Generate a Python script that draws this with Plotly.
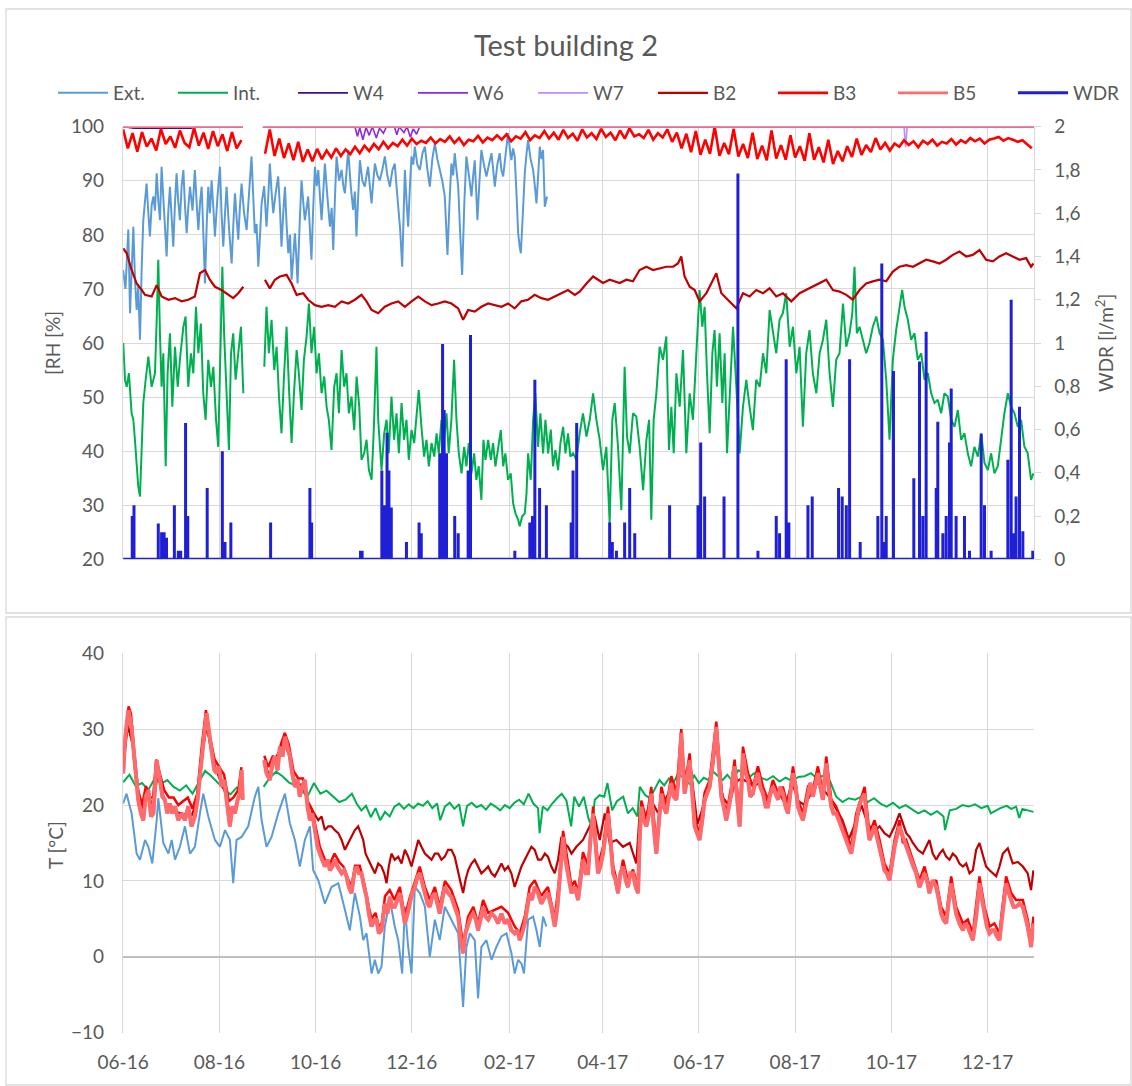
import plotly.graph_objects as go
import pandas as pd

START = pd.Timestamp("2016-06-01")
END_DAY = 577.5
GAP = 82  # day inside the Aug-2016 logger gap

# ---------------- RH panel: (day offset from 2016-06-01, RH %) ----------------
ext_rh = [(0,73.5),(1.5,70),(3.3,81),(4.4,65.5),(5.5,74),(6.5,81.5),(7.5,72),(8.6,66.1),(9.6,70.5),(10.7,60.6),
(11.8,74),(12.8,82.7),(13.8,86),(14.9,89.5),(16,84),(17,79.7),(18.1,85.5),(19.2,87.1),(20.2,84.5),(21.3,91.4),
(22.4,86),(23.4,82.7),(24.4,92.6),(26,84),(27.6,76),(28.6,84),(29.7,88.9),(30.8,83),(31.8,77.8),(32.9,86),
(33.9,91.4),(35,86),(36,82.7),(37.1,89),(38.2,92),(39.3,85),(40.3,80.3),(41.3,85),(42.4,88.9),(44,84.5),
(45.5,92),(46.6,86),(47.7,80.9),(48.8,86),(49.8,88.9),(50.9,80),(51.9,71),(53,82),(54,88.9),(55,84),
(56.1,90.1),(57.2,85),(58.2,79.7),(59.8,87),(61.4,92.6),(62.4,84),(63.5,77.8),(64.6,84),(65.6,88.9),(67.2,81),
(68.8,74.7),(69.9,82),(70.9,87.7),(72,83),(73,79.1),(74,85),(75.1,89.5),(76.7,84),(78.3,80.9),(79.9,88),
(81.4,94.5),(82.5,87),(83.5,80.3),(84.6,82),(85.7,74.1),(86.8,80),(87.8,85.8),(89.4,89),(90.9,81.5),(92,87),
(93,93.2),(94.1,88),(95.2,84),(96.8,88),(98.3,90.8),(99.4,85),(100.4,77.8),(101.5,84),(102.6,88.9),(103.6,82),
(104.7,76.6),(105.8,80),(106.8,71.7),(107.9,76),(108.9,80.3),(109.8,76),(110.6,71),(111.9,82),(113.1,90.1),(114.2,86),
(115.2,82.7),(116.3,85),(117.3,87.1),(118.4,81),(119.4,75.4),(120.5,85),(121.6,92.6),(122.7,89),(123.7,92),(124.8,87),
(125.8,82.7),(126.9,88),(127.9,93.2),(129.5,87),(131.1,81.5),(132.2,85),(133.2,77.2),(134.3,87),(135.3,94.5),(136.9,90),
(138.5,92),(139.6,89),(140.6,87.7),(141.7,92),(142.7,95.7),(144.3,89),(145.8,84.6),(146.9,88),(147.9,79.7),(149,87),
(150.1,93.8),(151.7,90),(153.2,88.9),(154.3,91),(155.3,92.6),(156.4,89),(157.5,85.8),(158.6,90),(159.6,93.2),(161.2,91),
(162.7,90.1),(164.3,92),(165.9,94.5),(167.5,91),(169.1,88.9),(170.7,92),(172.2,93.2),(173.3,89),(174.4,85.8),(175.6,81),
(176.9,74.1),(177.8,85),(178.6,92),(179.7,86),(180.7,81.5),(181.8,89),(182.8,94.5),(183.9,93),(184.9,96.3),(186.5,93),
(188.1,92),(189.7,95),(191.3,96.3),(192.9,92),(194.4,88.9),(196,94),(197.6,96.9),(199.2,94),(200.7,92),(202.3,90),
(203.9,87.1),(204.8,82),(205.6,76.3),(206.9,86),(208.1,93.2),(209.2,91),(210.2,95.1),(211.3,92),(212.4,88.9),(213.7,80),
(214.9,72.6),(216.3,86),(217.6,94.5),(219.2,91),(220.8,87.1),(221.9,91),(222.9,93.8),(223.8,88),(224.6,82.7),(225.9,90),
(227.1,95.7),(228.7,93),(230.3,90.8),(231.9,93),(233.5,95.1),(234.6,92),(235.6,88.9),(237.2,93),(238.7,95.1),(239.8,92),
(240.9,90.8),(242.5,95),(244,98.8),(245.1,96),(246.1,93.8),(247.2,96),(248.2,94.5),(249.3,88),(250.4,80.3),(251.3,78),
(252.1,76.6),(253.4,84),(254.6,91.4),(255.7,95),(256.7,97.5),(258.3,94),(259.9,92),(261,89),(262,85.8),(263.1,91),
(264.1,96.3),(265.2,94),(266.2,95.7),(267.3,85.2),(268.7,87.1)]

int_rh = [(0.1,60),(1.2,53.2),(2.3,51.9),(3.7,54.4),(5.4,47),(6.5,45.8),(7.5,42.1),(8.6,36.5),(9.6,33.5),(10.7,31.6),
(11.8,39.6),(12.8,48.9),(14.3,53.2),(16,57.5),(18.1,51.9),(20.2,54.4),(21.3,64.3),(22.3,75.4),(23.4,61.2),(24.4,51.9),
(25.5,58.1),(27,37.2),(28.2,54.4),(29.7,61.8),(31.2,48.2),(32.9,59.3),(34.6,51.9),(36,56.9),(38.2,63),(39.6,64.9),
(41.3,51.9),(43,58.1),(44.5,54.4),(46.2,66.7),(47.7,58.1),(49.3,63.6),(50.8,50.7),(52.3,45.8),(54,56.9),(55.7,51.9),
(57.2,55.6),(58.9,45.8),(60.3,40.8),(61.6,58.1),(62.9,74.1),(64.1,61.2),(65.6,51.9),(67.1,40.2),(68.4,58.1),(69.8,61.8),
(71.3,53.2),(73,58.1),(74.7,63),(76.2,50.7),(GAP,None),
(89.5,55.6),(90.9,66.7),(92.4,58.1),(94.1,64.3),(95.8,55),(97.3,59.3),(98.8,50.1),(100.4,43.3),(101.9,53.2),(103.6,63),
(105.1,51.9),(106.8,41.5),(108.3,50.7),(110,58.7),(111.4,54.4),(113.1,47.6),(114.6,56.9),(116.3,61.2),(117.8,67.3),(119.4,58.1),
(121.1,63),(122.6,54.4),(124.1,58.1),(125.8,50.7),(127.5,53.8),(129,48.2),(130.4,45.8),(132.1,40.2),(133.8,51.9),(135.3,54.4),
(136.8,47),(138.5,58.7),(140.1,51.9),(141.6,54.4),(143.1,47),(144.8,50.1),(146.5,43.9),(148,53.8),(149.7,48.2),(151.1,38.4),
(152.8,39.6),(154.3,42.1),(155.8,36.5),(157.5,34.7),(158.9,43.9),(160.6,59.3),(161.7,45.8),(163.8,36.5),(165.5,43.3),(167,45.8),
(168.4,39.6),(170.1,50.1),(171.8,42.1),(173.3,47),(174.8,39.6),(176.5,48.9),(178.1,42.1),(179.6,45.8),(181.1,38.4),(182.8,43.9),
(184.5,41.5),(185.9,47),(187.4,51.3),(189.1,44.5),(190.8,39),(192.3,42.1),(193.8,37.2),(195.5,41.5),(197.2,39),(198.7,43.3),
(200.1,39.6),(201.8,45.8),(203.5,42.1),(205,47),(206.4,39.6),(208.1,45.8),(209.8,56.9),(211.3,45.8),(212.8,39.6),(214.5,35.9),
(216.2,40.8),(217.6,37.2),(219.1,41.5),(220.8,35.9),(222.5,39.6),(223.9,34.7),(225.4,37.2),(227.1,31),(228.4,42.1),(229.7,38.4),
(231.4,42.1),(233.1,38.4),(234.5,41.5),(236,37.2),(237.7,40.8),(239.4,43.9),(240.9,37.2),(242.3,39.6),(244,34.7),(245.7,35.9),
(247.2,30.4),(248.7,28.5),(250.4,27.3),(251.4,26.1),(252.9,27.9),(254.6,28.5),(255.7,32.2),(256.7,39.6),(258.4,34.7),(259.9,45.8),
(261.3,50.7),(263,40.8),(264.5,47),(266.2,39.6),(267.7,45.8),(269.4,39.6),(271.1,44),(272.5,37.2),(274,40.2),(275.7,36.5),
(277.2,41.5),(278.9,44.5),(280.4,39.6),(282,43.3),(283.5,39),(285.2,39.6),(287.3,38.4),(289.4,43.3),(291.5,47),(293.7,42.7),
(295.8,45.8),(297.9,50.7),(300,45.8),(302.1,42.1),(304.2,36.5),(306.3,40.8),(308.4,26.7),(310.1,45.8),(311.6,48.9),(313.7,40.8),
(315.8,29.1),(316.9,45.8),(317.9,55.6),(319.4,42.7),(321.1,39.6),(323.2,47),(325.3,46.4),(327.4,40.8),(329.6,32.8),(331.7,42.1),
(333.4,45.8),(334.8,27.3),(336.3,45.8),(338,50.7),(340.1,59.3),(342.2,56.9),(344.3,61.2),(346,40.2),(347.5,48.2),(349,39.6),
(350.7,54.4),(352.8,48.2),(354.9,58.7),(357,39.6),(359.1,50.7),(361.2,45.8),(363.3,58.1),(365.4,69.8),(367.1,63),(368.6,66.7),
(370.1,54.4),(371.8,43.3),(373.5,58.1),(374.9,62.4),(376.4,51.9),(378.1,61.8),(379.8,48.9),(381.3,58.1),(382.8,39.6),(384.5,50.7),
(386.6,63),(388.7,51.9),(390.8,39.6),(392.9,48.2),(395,53.2),(397.1,48.2),(399.2,43.9),(401.3,53.2),(403.5,51.9),(405.6,58.1),
(407.7,54.4),(409.8,66.1),(411.9,61.8),(414,58.1),(416.1,64.3),(418.2,65.5),(420.3,69.2),(422.5,59.3),(424.6,63),(426.7,54.4),
(428.8,59.3),(430.9,44.5),(433,58.1),(435.1,62.4),(437.2,54.4),(439.4,50.7),(441.5,58.1),(443.6,60.6),(445.7,64.3),(447.8,54.4),
(449.9,48.2),(452,56.9),(454.1,58.1),(456.3,67.3),(458.4,59.3),(460.5,61.8),(462.2,65.5),(463.6,74.1),(465.1,61.8),(466.8,63),
(468.9,60.6),(471,58.1),(473.1,60),(475.2,63),(477.4,64.9),(479.5,61.8),(481.6,60.6),(483.7,53.2),(485.8,42.1),(487.9,56.9),
(490,62.4),(492.1,66.7),(493.8,69.8),(495.3,66.7),(497.4,64.3),(499.5,60.6),(501.6,61.8),(503.7,56.9),(505.9,58.1),(508,53.2),
(510.1,54.4),(512.2,50.7),(514.3,48.9),(516.4,49.5),(518.5,47),(520.6,50.7),(522.7,50.1),(524.9,45.8),(527,44.5),(529.1,47.6),
(531.2,42.1),(533.3,43.3),(535.4,39.6),(537.5,37.2),(539.6,40.8),(541.8,39),(543.9,43.3),(546,37.8),(548.1,36.5),(550.2,39.6),
(552.3,35.9),(554.4,37.2),(556.5,42.1),(558.6,47),(560.8,50.7),(562.9,48.2),(565,47),(567.1,44.5),(569.2,45.8),(571.3,40.8),
(573.4,39.6),(575.5,34.7),(577,35.9)]

w4_rh = [(0,100),(7,99.7),(43,99.7),(46,100),(76,100),(GAP,None),(88.6,100),(END_DAY,100)]
w6_rh = [(0,100),(76,100),(GAP,None),(88.6,100),(147,100),(148.5,98.2),(150,99.8),(152,97.6),(154,99.9),(156,98.4),
(158,100),(160.5,97.9),(162.5,99.7),(165,98.8),(167,100),(172,100),(173.5,98.5),(175,100),(178,98.9),(180,100),
(182,98.1),(184,99.6),(186,98.6),(188,100),(END_DAY,100)]
w7_rh = [(0,100),(76,100),(GAP,None),(88.6,100),(495,100),(496,96.2),(497,100),(END_DAY,100)]

b2_rh = [(0.1,77.5),(2.3,76.6),(5.4,73.5),(8.6,71),(11.8,69.8),(13.9,68.9),(18.1,68.6),(21.3,70.7),(24.4,68.6),(28.7,68),
(32.9,68.3),(37.1,67.7),(41.3,68),(45.5,68.6),(48.7,72.9),(51.9,73.5),(55,71.7),(58.2,70.4),(62.4,69.8),(66.7,68.9),
(69.8,68.3),(73,69.2),(76.2,70.4),(GAP,None),
(89.9,71.7),(93,70.1),(96.2,71.7),(99.4,72.3),(103.6,72.6),(106.8,71),(110,68.9),(114.2,69.2),(117.3,68),(121.6,67),
(125.8,66.7),(130,67),(134.2,66.7),(138.5,67.7),(142.7,67.3),(146.9,68),(151.1,68.9),(154.3,67.7),(157.5,66.1),(161.7,65.5),
(165.9,66.7),(170.1,67.3),(174.4,67.7),(178.6,66.7),(182.8,67.7),(187.1,68.6),(191.3,67.7),(195.5,67),(199.7,67.3),(203.9,67.7),
(208.1,67.3),(212.4,66.4),(215.5,64.3),(218.7,66.1),(222.9,65.8),(227.1,66.7),(231.4,67.3),(235.6,67),(239.8,66.7),(244,67.3),
(248.2,66.4),(252.4,67.7),(256.7,68),(260.9,68.9),(265.1,68.3),(269.3,68),(273.6,68.6),(277.8,69.2),(282,69.8),(286.3,68.9),
(289.4,69.5),(293.7,71),(297.9,72.3),(301.1,71.7),(304.2,71.1),(308.4,71.7),(314.8,71.1),(319,71.7),(323.2,71.4),(327.4,73.5),
(331.7,74.1),(335.9,73.5),(340.1,73.8),(344.3,74.1),(348.6,74.1),(351.7,74.7),(353.8,76),(355.9,72.3),(359.1,70.4),(362.3,69.8),
(365.4,67.7),(369.7,69.2),(372.8,71),(376,72.9),(379.2,69.2),(383.4,68),(388.7,66.4),(392.9,69.2),(397.1,68.6),(401.3,69.8),
(405.6,69.2),(409.8,70.1),(414,68.6),(418.2,69.2),(423.5,67.7),(428.8,69.2),(433,69.8),(437.2,70.4),(441.5,71),(445.7,71.7),
(449.9,69.8),(454.1,69.5),(458.4,68.9),(462.5,68),(466.8,69.8),(471,71),(475.2,71.4),(479.5,71.7),(483.7,71.4),(487.9,73.2),
(492.1,74.1),(496.4,74.4),(500.6,74.1),(504.8,74.7),(509,75.4),(513.3,75.1),(517.5,74.7),(521.7,75.4),(525.9,76.3),(530.1,76.9),
(534.4,76),(538.6,76.3),(542.8,77.2),(547,75.4),(551.3,75.1),(555.5,76),(559.7,76.6),(563.9,76),(568.2,75.4),(572.4,75.7),
(575.5,74.1),(577,74.7)]

# B3 RH sampled every 3 days from 2016-06-01 (None = logger gap)
b3_rh = [99.5,96.0,98.8,95.4,99.0,96.3,97.8,95.6,99.6,96.8,
98.2,96.1,99.3,97.0,96.2,99.8,96.5,98.9,95.9,99.2,
96.4,98.6,95.5,99.0,96.0,97.5,None,None,None,None,
95.0,99.5,94.6,97.8,94.2,96.9,93.8,97.2,93.5,95.8,
93.6,95.9,94.0,95.6,94.3,96.0,94.6,95.8,94.9,96.3,
95.1,96.5,95.5,96.8,95.8,97.2,96.0,97.0,96.4,97.6,
96.5,97.8,96.8,97.4,97.0,98.0,96.9,97.7,97.2,98.2,
97.0,97.9,96.6,97.6,97.3,98.3,97.1,98.0,97.5,98.4,
97.6,98.6,97.3,98.2,97.8,99.0,97.5,98.4,97.9,99.2,
97.8,98.9,97.6,99.4,97.9,98.7,97.4,99.5,98.0,98.8,
97.7,99.6,98.1,98.9,97.5,99.3,97.8,99.7,98.2,98.6,
97.9,99.4,97.6,98.8,98.0,99.5,97.2,98.9,96.0,98.7,
95.3,99.2,94.8,97.6,95.0,100.0,94.6,97.0,94.9,99.6,
94.5,96.8,94.2,98.9,94.0,96.5,93.8,99.3,94.1,96.6,
93.9,98.4,94.3,96.4,93.7,98.8,93.9,96.2,93.4,97.6,
93.1,95.5,93.6,96.4,94.4,97.8,94.8,96.6,95.3,97.9,
95.8,97.0,95.6,96.9,96.3,97.5,96.6,97.3,96.2,97.4,
96.8,97.6,96.5,97.2,96.9,97.7,96.7,97.5,97.0,97.9,
97.3,97.8,96.9,97.6,97.8,98.1,97.4,97.9,97.6,97.2,
97.5,96.8,96.0]
B3_STEP = 3

b5_rh = [(0,100),(76,100),(GAP,None),(88.6,100),(END_DAY,100)]

# WDR events: (day offset, l/m2)
wdr = [(5.8,0.2),(6.9,0.25),(22.3,0.166),(24.4,0.125),(26,0.125),(27.5,0.1),(32.5,0.25),(35,0.04),(36.5,0.04),(39.6,0.63),
(41,0.2),(53.3,0.33),(62.9,0.5),(64.6,0.08),(68.3,0.17),(93.5,0.17),(118.4,0.33),(119.5,0.17),(150.5,0.04),(151.5,0.04),
(164,0.41),(165.5,0.25),(167.3,0.585),(168.5,0.41),(170,0.24),(179.6,0.08),(187.6,0.17),(189,0.12),(200.7,0.49),(202.5,0.995),
(203.5,0.69),(205,0.49),(210.2,0.2),(212.4,0.12),(218.7,0.41),(220.2,1.037),(248.3,0.04),(257.8,0.17),(259.5,0.2),(261,0.83),
(264,0.33),(268.3,0.25),(284,0.17),(285.2,0.41),(287.5,0.63),(308.4,0.17),(310.1,0.08),(312.7,0.04),(317.9,0.17),(321.1,0.33),
(324.3,0.12),(346.4,0.25),(364.4,0.25),(366.1,0.54),(368.6,0.29),(380.9,0.29),(389.7,1.784),(402.4,0.04),(414,0.2),(416.1,0.12),
(420.3,0.925),(422,0.17),(434.1,0.25),(436.8,0.29),(453.5,0.33),(455.8,0.29),(458.4,0.25),(460.5,0.925),(467.2,0.08),(478.4,0.2),
(480.9,1.368),(482.6,0.08),(483.7,0.2),(488.3,0.87),(501.2,0.375),(504.8,0.914),(506.9,0.2),(509,1.052),(515.4,0.33),(516.4,0.636),
(519.6,0.12),(521.7,0.2),(523.8,0.54),(524.9,0.79),(528,0.2),(533.3,0.2),(536.5,0.04),(543.9,0.58),(546,0.25),(550.2,0.04),
(560.8,0.46),(562.9,1.2),(564.4,0.12),(566,0.29),(568.2,0.705),(570.3,0.13),(576.6,0.04)]

# ---------------- T panel: (day offset, degC) ----------------
ext_t = [(0,20.2),(2.2,21.5),(5.4,18.9),(8.6,13.6),(10.7,12.8),(13.9,15.4),(16,14.5),(18.5,12.3),(21.3,18),(22.3,20.9),
(25.5,15),(28.7,13.6),(30.8,15.4),(32.9,12.8),(36,14.5),(39.2,17.2),(42.4,13.6),(45.5,14.5),(48.7,18.9),(50.8,21.5),
(54,18.5),(58.2,15.4),(61.4,14.5),(64.6,16.7),(67.7,15.4),(69.8,9.7),(71.9,15.4),(75.1,15.8),(79.3,17.2),(83.5,21.1),
(85.7,22.4),(87.8,18),(90.9,14.5),(94.1,15.8),(98.3,18.9),(102.6,21.5),(105.7,17.6),(108.9,15.4),(112,11.9),(115.2,15.4),
(118.4,17.2),(120.5,11.4),(123.7,10.1),(127.9,7),(132.1,9.2),(136.4,9.7),(140.6,6.2),(143.7,3.5),(146.9,8.4),(150.1,5.3),
(152.2,2.2),(154.3,3.1),(157.5,-2.2),(159.6,-0.4),(161.7,-2.2),(163.8,-1.3),(165.9,4),(169.1,7.5),(172.2,4),(174.4,2.2),
(176.9,-2.2),(178.6,6.6),(180.7,1.3),(182.8,-2.2),(184.9,9.2),(188.1,8.4),(191.3,6.6),(194.4,0),(197.6,4.9),(200.7,2.2),
(203.9,6.6),(208.1,4.9),(212.4,3.1),(215.5,-6.6),(217.6,1.3),(219.8,3.1),(222.9,2.2),(225,-5.5),(227.1,1.3),(230.3,2.2),
(233.5,-0.4),(236.6,1.3),(239.8,2.7),(243,3.1),(246.1,0.5),(248.2,-2.2),(250.4,-0.4),(252.5,-0.9),(254.1,-2.2),(256.7,4.9),
(259.9,5.3),(262,3.5),(264.1,1.3),(266.2,5.3),(268.3,4)]

int_t = [(0,23),(4,24),(8,22.5),(12,22.9),(16,22),(20,23.5),(24,22.8),(28,23.3),(32,22.4),(36,21.9),
(40,22.6),(44,21.5),(48,23),(52,24.5),(56,23.8),(60,22.9),(64,22.1),(68,21.4),(72,22.3),(76,21.6),(GAP,None),
(89,22.4),(93,23.6),(97,24.4),(101,23.8),(105,23),(109,22.6),(113,21.9),(117,21.2),(121,22.9),(125,21.5),
(129,21.9),(133,21.1),(137,20.4),(141,20.7),(145,21.5),(148,20.2),(151,19.3),(154,19.9),(157,18.4),(160,19.6),
(163,18),(166,19.1),(169,18.5),(172,19.8),(175,20.2),(178,19.5),(181,20.1),(184,19.6),(187,20.2),(190,19.9),
(193,20.5),(196,19.6),(199,20.2),(201,18),(204,19.8),(207,20.3),(210,19.5),(213,20.1),(215.5,17.2),(218,19.9),
(221,20.3),(224,19.7),(227,20),(230,19.4),(233,20.2),(236,19.8),(239,19.3),(242,20),(245,19.6),(248,20.3),
(251,20.7),(254,20.1),(257,21.5),(260,20.2),(263,19.6),(264,16.3),(266,19.8),(269,19.3),(272,20.2),(275,20.9),
(278,21.5),(281,20.6),(284,17.2),(286,21.1),(289,19.8),(292,21.1),(295,18.2),(297,17.2),(299,20.7),(302,21.3),
(305,21.1),(307,22.9),(310,19.3),(313,20.5),(317,21.1),(320,18.9),(323,19.6),(326,18.5),(327.5,22.4),(331,21.3),
(334,20.9),(337,22.1),(340,23.3),(343,22.6),(346,23.5),(349,23),(352,24.2),(356,23.4),(359,22.8),(362,23.9),
(365,22.9),(368,23.6),(371,23.3),(374,24.4),(377,23.8),(380,23.3),(383,24),(386,23.2),(390,24.6),(393,24.2),
(397,23.7),(400,24.2),(404,23.6),(408,23.3),(412,23.8),(416,23.1),(420,23.6),(424,23.2),(428,23.7),(432,23.8),
(436,24.2),(440,23.5),(444,23.9),(448,23.2),(452,21.1),(456,20.4),(460,20.9),(464,20.7),(468,21.1),(472,20.4),
(476,20.9),(480,20.2),(484,19.8),(488,20.3),(492,19.6),(496,20),(500,19.4),(504,18.9),(508,19.3),(512,18.7),
(516,19.2),(520,18.5),(521,16.7),(524,19.3),(528,19.5),(532,20),(536,19.8),(540,20.1),(544,19.6),(548,19.9),
(550,18.9),(553,19.3),(556,19.6),(560,19.9),(563,19.5),(566,19.8),(568,18.3),(570,19.5),(573,19.3),(577,19.1)]

b2_t = [(0,25),(3,30.5),(6,28),(9,21.5),(13,19.5),(16,21.5),(19,19.5),(22,24.5),(25,21.5),(28,19.8),
(31,19.6),(35,19),(39,18.8),(43,18.4),(47,20.5),(50,26.5),(53,30.5),(56,27),(59,24.6),(62,23),
(65,21.5),(68,18.5),(71,19.6),(75,22),(GAP,None),
(89.5,25.5),(93,23.8),(96,26),(99,27),(102,28.2),(105,26.8),(108,23.5),(111,22.8),(114,22.6),(117,20.5),
(121.1,18.9),(123.7,18),(125.8,18.5),(127.9,16.7),(130,17.2),(132.1,17.2),(134.2,16.7),(136.4,16.3),(138.5,15.4),(140.6,14.1),
(142.7,15),(144.8,15.8),(146.9,16.7),(149,17.2),(150.7,16.3),(152.2,15.4),(153.7,13.6),(155.3,12.8),(157.5,11.9),(159.6,11),
(161.7,12.3),(163.8,11.9),(165.5,11),(167,9.7),(168.4,11.9),(170.1,13.6),(172.2,12.8),(174.4,13.2),(176.5,12.3),(178.6,14.1),
(180.7,13.2),(182.8,11.9),(184.9,13.6),(187.1,15.4),(189.1,14.5),(191.3,13.6),(193.4,13.2),(195.5,12.8),(197.6,13.6),(199.7,13.6),
(201.8,12.8),(203.9,13.2),(206,14.1),(208.1,14.1),(210.2,13.2),(212.4,11),(214,9.7),(215.5,8.4),(217,10.1),(218.7,11.4),
(220.8,12.3),(222.9,12.8),(225,11.9),(227.1,11),(229.2,11.4),(231.4,11.9),(233.5,11),(235.6,10.6),(237.7,11.4),(239.8,12.3),
(241.9,11.4),(244,11.9),(246.1,11),(248.2,9.2),(250.4,10.6),(252.5,11.9),(254.6,12.8),(256.7,13.6),(258.8,14.5),(260.9,14.1),
(263,12.8),(265.1,12.8),(267.3,13.6),(269.3,13.2),(271.4,11.9),(273.6,11),(275.7,12.8),(277.8,15.8),(279.9,14.9),(282,14.5),
(284.2,13.6),(287.3,14.5),(291.5,15.4),(295.8,17.2),(298.9,18.5),(302.1,15.4),(305.3,18.9),(308.4,15),(312.7,15.4),(316.9,14.5),
(321.1,15),(325.3,12.3),(327.4,18.9),(331,18.5),(335,20.5),(339,19),(343,20.5),(347,22),(351,21),(354,27),
(357,23),(360,24.5),(364,17.5),(368,20),(372,22.5),(376,28.5),(380,21),(384,20),(388,23),(392,23.5),
(396,23),(400,22.5),(404,23),(408,20.5),(412,22),(416,21.5),(420,20),(424,23),(428,20.5),(432,20),
(436,21.5),(440,23),(444,22),(448,21),(452,19.5),(456,18),(460,15.5),(464,17.5),(468,20),(472,17.5),
(476,16.5),(479.5,17.2),(482.6,16.3),(485.8,15.8),(489,17.2),(492.1,18.9),(494.3,17.6),(496.4,16.3),(498.5,15.8),(500.6,15),
(503.7,14.1),(506.9,13.6),(509,14.5),(511.1,15.4),(513.2,13.6),(515.4,12.8),(517.5,13.6),(519.6,14.1),(521.7,13.2),(523.8,12.8),
(525.9,13.6),(528,13.2),(530.1,12.3),(532.3,11.9),(534.4,12.3),(536.5,11),(538.6,11.4),(540.7,14.1),(542.8,15),(544.9,13.6),
(547,11.9),(549.2,11.4),(551.3,11),(553.4,10.6),(555.5,11.9),(557.6,13.6),(560.8,14.3),(563.9,12.3),(567.1,12.5),(570.3,11.9),
(573.4,11),(575.5,8.8),(577,11.4)]

b3_t = [(0,26),(2,30.5),(3.5,33),(5,32),(7,27),(9.5,22),(12,20),(14.5,22.5),(17,21),(19,21),
(21,26),(23.5,24),(26,22),(29,21),(32,21),(35,20),(38,20.5),(41,21),(44,19.5),(47,21.5),
(50,28),(52.5,32.5),(55,29),(58,26),(61,25),(64,24),(67,20.5),(70,21),(73,22),(75,25),(GAP,None),
(89.5,26.5),(92,25),(95,26.5),(97.5,25.5),(100,28),(102.5,29.5),(105,28),(108,24.5),(111,23.5),(114,23.5),
(117,20.5),(119.5,19.5),(122,17.2),(124.7,14.5),(127.9,12.8),(131,12.2),(134,13.6),(137,12.5),(140,11.8),(143,10),
(145,9.4),(147,12),(150,12),(153,9.5),(155.8,6.5),(157.5,5),(160,5.8),(162,4),(164,4.4),(166,8),
(169,8.8),(172,7.5),(175.4,9.2),(178.6,5.3),(181.7,7.8),(185,10),(188,11.9),(191.3,9.2),(194.4,7.5),(197.6,9.2),
(200.7,6.6),(204,10),(208,8.8),(212.4,6.2),(215.5,1.5),(218.7,5.3),(222,6.6),(225,4.4),(228.2,7.5),(231.4,5.8),
(235.6,6.2),(239.8,6.6),(244,5.8),(248.2,4),(251.4,3.1),(254.6,5.3),(257.7,9.2),(260.9,10.1),(265,8),(269.3,9.2),
(273.6,5),(276.8,11),(278.9,16.6),(282,12),(284.2,9.3),(286.3,10),(288.4,8.5),(291.5,13.8),(294.7,12),(297.9,19.8),
(301,12),(304.2,14.5),(307.4,19.8),(310.6,12),(313.7,9.3),(316.9,12.8),(320,10),(323.2,11.5),(326.4,9.3),(328.5,20.6),
(331.7,18),(334.8,22.4),(338,14.5),(341.2,22.4),(344.3,19.8),(347.5,23.8),(350.7,21.6),(353.8,30),(355.9,22.4),(359.1,26.8),
(362.3,18),(365.4,16.3),(368.6,21.6),(371.8,23.3),(374.9,29.5),(376,31),(379.2,22),(382.3,18.9),(385.5,22.4),(387.6,26),
(390.8,18),(392.9,27.7),(396.1,24.2),(399.2,22.4),(402.4,25.1),(405.6,22.4),(408.7,20.7),(411.9,23.3),(415.1,21.6),(418.2,22.4),
(421.4,19.8),(424.6,25.1),(427.7,20.7),(430.9,18.9),(434.1,22.4),(437.2,22),(440.4,25.1),(443.6,21.6),(445.7,26.4),(448.9,20.7),
(452,19.8),(455.2,18),(458.4,16.3),(461.5,14.5),(464.7,18.9),(467.9,21),(470,22.4),(473.1,16.3),(476.3,18),(479.5,15.4),
(482.6,12.3),(485.8,11),(489,15.4),(492.1,18),(494.3,15),(496.4,15.4),(500.6,12.8),(504.8,10.1),(508,11.9),(511.1,9.3),
(515.4,10.1),(518.5,6.6),(521.7,5.3),(524.9,10.6),(528,6.6),(532.3,4.4),(535.4,4.9),(538.6,3.1),(542.8,10.6),(546,6.6),
(549.2,4),(552.3,4.4),(555.5,3.1),(559.7,10.6),(562.9,8.4),(566,7.5),(570.3,7.5),(573.4,4.9),(575.5,2.2),(577,5.3)]

b5_t = [(0.1,24.2),(1.2,28.6),(3.3,32.5),(4.4,31.2),(5.4,30.3),(6.5,27.7),(7.5,25.1),(9.6,20.7),(11.3,18.9),(12.8,18),
(14.3,21.1),(16,22),(17.7,18.5),(19.2,18.9),(21.3,25.9),(22.3,24.2),(23.4,23.3),(24.9,21.1),(26.5,20.7),(28,18.9),
(29.7,20.2),(31.2,18.9),(32.9,19.8),(35,18),(37.1,18.9),(39.2,18),(41.3,19.8),(43.4,17.2),(45.5,18.5),(47.2,20.7),
(48.7,24.2),(50.2,27.3),(51.9,30.3),(52.9,32.1),(54.4,29.5),(56.1,27.3),(57.8,24.6),(59.3,24.2),(60.8,25.1),(62.4,22.4),
(64.1,23.3),(65.6,20.7),(67.7,17.2),(69.2,19.8),(70.9,18.9),(72.6,20.7),(74,21.5),(75.1,24.6),(75.8,20.7),(GAP,None),
(89.5,25.9),(90.9,24.2),(93,23.3),(94.7,25.5),(96.2,26.4),(97.9,24.6),(99.4,27.7),(101.1,26.4),(102.6,29),(104.2,27.7),
(105.7,26.4),(107.2,24.2),(108.9,22.4),(110.6,23.3),(112,21.1),(113.5,22.4),(115.2,23.3),(116.9,19.8),(118.4,18),(119.9,18.9),
(121.6,16.3),(123.3,14.5),(124.7,13.6),(126.2,12.8),(127.9,11.9),(129.6,12.8),(131.1,11.4),(132.6,11.9),(134.2,12.8),(135.9,11.9),
(138.5,11),(140.1,11.4),(141.6,10.6),(143.1,9.2),(144.8,8.4),(146.5,11),(148,11.9),(149.5,11),(151.1,11),(152.8,9.2),
(154.3,7.9),(155.8,5.7),(157.5,4),(159.2,4.9),(160.6,4.9),(162.1,3.1),(163.8,3.5),(165.9,7),(167.6,5.7),(169.1,7.9),
(170.5,6.6),(172.2,6.6),(173.9,7.5),(175.4,8.4),(176.9,6.6),(178.6,4.4),(180.3,5.7),(181.7,7),(183.2,8.4),(184.9,9.2),
(186.6,10.6),(188.1,11),(189.6,9.7),(191.3,8.4),(193,7),(194.4,6.6),(195.9,7.9),(197.6,8.4),(199.3,6.6),(200.7,5.7),
(202.2,7.5),(203.9,9.2),(206,8.4),(208.1,7.9),(210.2,6.6),(212.4,5.3),(214,2.2),(215.5,0.5),(217,3.1),(218.7,4.4),
(220.4,5.3),(221.9,5.7),(223.6,4.9),(225,3.5),(226.7,4.9),(228.2,6.6),(229.7,5.3),(231.4,4.9),(233.5,5.7),(235.6,5.3),
(237.7,4.4),(239.8,5.7),(241.9,4.4),(244,4.9),(246.1,3.5),(248.2,3.1),(249.9,3.5),(251.4,2.2),(252.9,3.1),(254.6,4.4),
(256.3,6.6),(257.7,8.4),(259.2,7.5),(260.9,9.2),(263,8.4),(265.1,7),(267.3,7.9),(269.3,8.4),(271.4,6.6),(273.6,4),
(275.3,6.6),(276.8,10.1),(277.8,13.2),(278.9,15.8),(280.4,12.8),(282,11),(284.2,8.4),(286.3,9.2),(288.4,7.5),(289.9,10.1),
(291.5,12.8),(293.2,11),(294.7,11),(296.2,15.4),(297.9,18.9),(299.6,14.5),(301.1,11),(302.5,11.9),(304.2,13.6),(305.9,16.3),
(307.4,18.9),(308.9,15.4),(310.6,11),(312.2,10.1),(313.7,8.4),(315.2,11),(316.9,11.9),(318.6,10.1),(320,9.2),(321.5,11),
(323.2,11),(324.9,9.2),(326.4,8.4),(327.4,15.4),(328.5,19.8),(330,18),(331.7,17.2),(333.4,18.9),(334.8,21.5),(336.3,17.2),
(338,13.6),(339.7,18),(341.2,21.5),(342.6,19.8),(344.3,18.9),(346,21.1),(347.5,22.9),(349,21.1),(350.7,20.7),(352.4,24.2),
(353.8,29.5),(354.9,25.1),(355.9,21.5),(357.4,23.3),(359.1,25.9),(360.8,21.5),(362.3,17.2),(363.8,16.3),(365.4,15.4),(367.1,18),
(368.6,20.7),(370.1,21.5),(371.8,22.4),(373.5,25.1),(374.9,28.6),(376,30.3),(377.5,25.9),(379.2,21.1),(380.7,19.8),(382.3,18),
(384,19.8),(385.5,21.5),(386.6,24.2),(387.6,25.1),(389.1,21.1),(390.8,17.2),(391.8,21.5),(392.9,26.8),(394.6,24.2),(396.1,23.3),
(397.5,21.1),(399.2,21.5),(400.9,23.3),(402.4,24.2),(403.9,22.4),(405.6,21.5),(407.3,19.8),(408.7,19.8),(410.2,21.5),(411.9,22.4),
(413.6,21.5),(415.1,20.7),(416.5,22.4),(418.2,21.5),(419.9,19.8),(421.4,18.9),(422.9,21.5),(424.6,24.2),(426.3,22.4),(427.7,19.8),
(429.2,18.9),(430.9,18),(432.6,19.8),(434.1,21.5),(435.5,22.9),(437.2,21.1),(438.9,22.9),(440.4,24.2),(441.9,22.4),(443.6,20.7),
(444.6,23.3),(445.7,25.5),(447.4,22),(448.9,19.8),(450.3,18.9),(452,18.9),(453.7,18),(455.2,17.2),(456.7,16.3),(458.4,15.4),
(460.1,14.5),(461.5,13.6),(463,15.4),(464.7,18),(466.4,19.8),(467.9,20.7),(470,21.5),(471.5,18),(473.1,15.4),(474.8,16.3),
(476.3,17.2),(477.8,15.8),(479.5,14.5),(481.2,12.8),(482.6,11.4),(484.1,11),(485.8,10.1),(487.5,12.8),(489,14.5),(490.4,15.8),
(492.1,17.2),(494.3,15.8),(496.4,14.5),(498.5,13.2),(500.6,11.9),(502.7,11),(504.8,9.2),(506.5,10.1),(508,11),(509.5,10.1),
(511.1,8.4),(513.2,10.1),(515.4,9.2),(517.1,7.5),(518.5,5.7),(520,4.9),(521.7,4.4),(523.4,7.5),(524.9,9.7),(526.3,7.9),
(528,5.7),(530.1,4.4),(532.3,3.5),(533.9,4.4),(535.4,4),(536.9,3.1),(538.6,2.2),(540.7,5.3),(542.8,9.7),(544.5,7.5),
(546,5.7),(547.5,4),(549.2,3.1),(550.8,3.5),(552.3,3.5),(553.8,2.7),(555.5,2.2),(557.6,6.6),(559.7,9.7),(561.4,8.4),
(562.9,7.5),(564.4,6.6),(566,6.6),(568.2,7),(570.3,6.6),(572,5.3),(573.4,4),(574.9,2.2),(575.5,1.3),(577,4.4)]

# W sensors read as coinciding with B5 in the temperature panel
w4_t = b5_t
w6_t = b5_t
w7_t = b5_t

tick_dates = ["2016-06-01","2016-08-01","2016-10-01","2016-12-01","2017-02-01",
              "2017-04-01","2017-06-01","2017-08-01","2017-10-01","2017-12-01"]
rh_ticks = [20,30,40,50,60,70,80,90,100]
wdr_ticks = [0,0.2,0.4,0.6,0.8,1.0,1.2,1.4,1.6,1.8,2.0]
wdr_labels = ["0","0,2","0,4","0,6","0,8","1","1,2","1,4","1,6","1,8","2"]
t_ticks = [-10,0,10,20,30,40]

COL = {"Ext.":"#5B9BD5","Int.":"#00B050","W4":"#3F0C94","W6":"#8A2BE2","W7":"#BF8CFF",
       "B2":"#C00000","B3":"#FF0000","B5":"#FF6B6B","WDR":"#1F1FD6"}
RANK = {"Ext.":1,"Int.":2,"W4":3,"W6":4,"W7":5,"B2":6,"B3":7,"B5":8,"WDR":9}

def dx(pairs):
    return [START + pd.Timedelta(days=d) for d, _ in pairs]

def dy(pairs):
    return [v for _, v in pairs]

fig = go.Figure()

def add(pairs, name, xa, ya, width=2.0, legend=True, clip=True):
    fig.add_trace(go.Scatter(x=dx(pairs), y=dy(pairs), mode="lines", name=name,
                             line=dict(color=COL[name], width=width), xaxis=xa, yaxis=ya,
                             showlegend=legend, legendgroup=name, legendrank=RANK[name],
                             cliponaxis=clip, hoverinfo="skip"))

b3_rh_pairs = [(i * B3_STEP, v) for i, v in enumerate(b3_rh)]

# W sensors sit at saturation under the B5 line, so they are laid down first (clipped)
add(w4_rh, "W4", "x", "y", width=1.6)
add(w6_rh, "W6", "x", "y", width=1.6)
add(w7_rh, "W7", "x", "y", width=1.6)
add(ext_rh, "Ext.", "x", "y")
add(int_rh, "Int.", "x", "y")
add(b2_rh, "B2", "x", "y", width=2.2)
add(b3_rh_pairs, "B3", "x", "y", width=2.6)
add(b5_rh, "B5", "x", "y", width=2.8, clip=False)

# WDR spikes drawn as vertical strokes rising from the zero baseline
wx, wy = [START], [0]
for d, v in wdr:
    t = START + pd.Timedelta(days=d)
    wx += [t, t, t]
    wy += [0, v, 0]
wx.append(START + pd.Timedelta(days=END_DAY))
wy.append(0)
fig.add_trace(go.Scatter(x=wx, y=wy, mode="lines", name="WDR",
                         line=dict(color=COL["WDR"], width=3), xaxis="x", yaxis="y2",
                         cliponaxis=False, hoverinfo="skip", legendgroup="WDR",
                         legendrank=RANK["WDR"]))

add(ext_t, "Ext.", "x2", "y3", legend=False)
add(int_t, "Int.", "x2", "y3", legend=False)
add(w4_t, "W4", "x2", "y3", legend=False)
add(w6_t, "W6", "x2", "y3", legend=False)
add(w7_t, "W7", "x2", "y3", width=3.5, legend=False)
add(b2_t, "B2", "x2", "y3", width=2.2, legend=False)
add(b3_t, "B3", "x2", "y3", width=2.5, legend=False)
add(b5_t, "B5", "x2", "y3", width=4.0, legend=False)

W, H = 1132, 1086
def px(x): return x / W
def py(y): return 1 - y / H

XDOM = [px(123.1), px(1034.2)]
xr = [START, START + pd.Timedelta(days=END_DAY)]
GRID = "#D9D9D9"
TXT = "#595959"

fig.update_layout(
    width=W, height=H, margin=dict(l=0, r=0, t=0, b=0, autoexpand=False),
    paper_bgcolor="white", plot_bgcolor="white",
    font=dict(family="Lato", size=19, color=TXT),
    title=dict(text="Test building 2", x=0.5, xanchor="center", y=py(46), yanchor="middle",
               yref="container", font=dict(size=29, color=TXT, family="Lato")),
    legend=dict(orientation="h", x=px(53), y=py(93), xanchor="left", yanchor="middle",
                entrywidth=55, entrywidthmode="pixels", font=dict(size=19, color=TXT),
                bgcolor="rgba(0,0,0,0)", itemwidth=50, tracegroupgap=0, traceorder="normal"),
    xaxis=dict(domain=XDOM, anchor="y", type="date", range=xr, tickvals=tick_dates,
               showticklabels=False, showgrid=True, gridcolor=GRID, gridwidth=1.3,
               zeroline=False, showline=False, ticks="", automargin=False),
    yaxis=dict(domain=[py(559.3), py(126.7)], anchor="x", range=[20, 100], tickvals=rh_ticks,
               showgrid=True, gridcolor=GRID, gridwidth=1.3, zeroline=False,
               showline=True, linecolor=GRID, linewidth=1.3, ticks="", ticklabelstandoff=14,
               automargin=False),
    yaxis2=dict(overlaying="y", side="right", anchor="x", range=[0, 2], tickvals=wdr_ticks,
                ticktext=wdr_labels, showgrid=False, zeroline=False, showline=True,
                linecolor=GRID, linewidth=1.3, ticks="outside", ticklen=6, tickcolor=GRID,
                tickwidth=1.3, ticklabelstandoff=9, automargin=False),
    xaxis2=dict(domain=XDOM, anchor="y3", type="date", range=xr, tickvals=tick_dates,
                tickformat="%m-%y", showgrid=True, gridcolor=GRID, gridwidth=1.3,
                zeroline=False, showline=False, ticks="", ticklabelstandoff=16, automargin=False),
    yaxis3=dict(domain=[py(1032.7), py(653.3)], anchor="x2", range=[-10, 40], tickvals=t_ticks,
                showgrid=True, gridcolor=GRID, gridwidth=1.3, zeroline=True,
                zerolinecolor="#BFBFBF", zerolinewidth=1.6, showline=True, linecolor=GRID,
                linewidth=1.3, ticks="", ticklabelstandoff=14, automargin=False),
    shapes=[
        dict(type="rect", xref="paper", yref="paper", x0=px(6), x1=px(1131), y0=py(613), y1=py(9),
             line=dict(color=GRID, width=1.3), layer="below"),
        dict(type="rect", xref="paper", yref="paper", x0=px(6), x1=px(1131), y0=py(1085), y1=py(617),
             line=dict(color=GRID, width=1.3), layer="below"),
    ],
    annotations=[
        dict(text="[RH [%]", x=px(52), y=py(343), xref="paper", yref="paper", showarrow=False,
             xanchor="center", yanchor="middle", textangle=-90, font=dict(size=19, color=TXT)),
        dict(text="WDR [l/m<sup>2</sup>]", x=px(1104), y=py(343), xref="paper", yref="paper",
             showarrow=False, xanchor="center", yanchor="middle", textangle=-90,
             font=dict(size=19, color=TXT)),
        dict(text="T [°C]", x=px(55), y=py(845), xref="paper", yref="paper", showarrow=False,
             xanchor="center", yanchor="middle", textangle=-90, font=dict(size=19, color=TXT)),
    ],
)

fig.write_html("out.html")
